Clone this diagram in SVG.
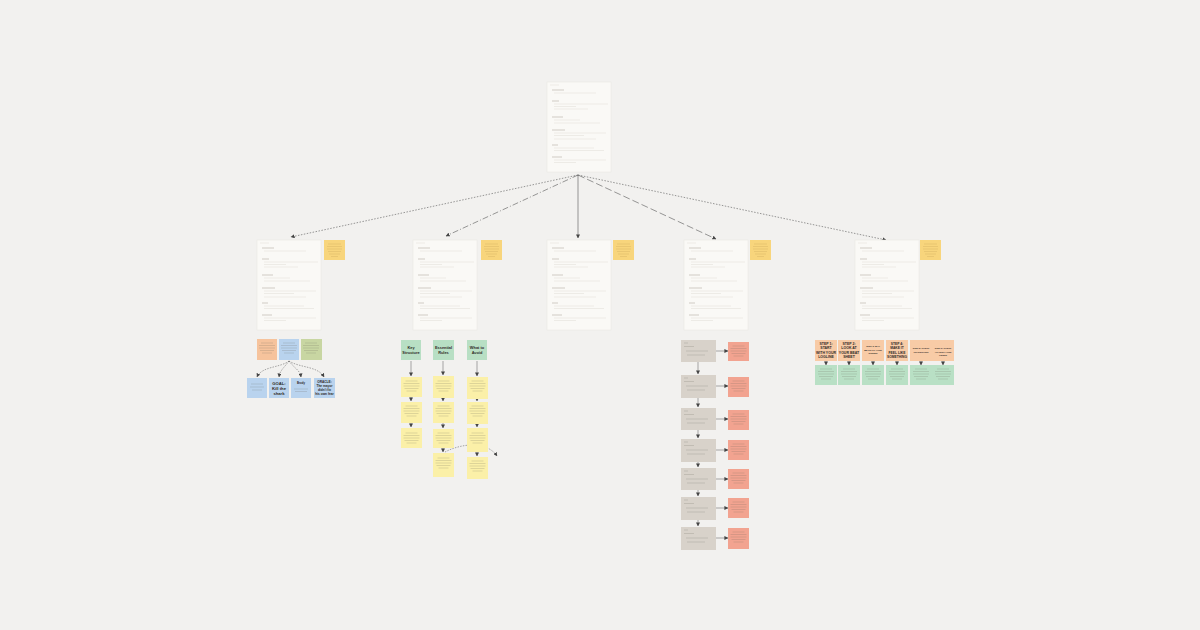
<svg xmlns="http://www.w3.org/2000/svg" xmlns:xlink="http://www.w3.org/1999/xlink" width="1200" height="630" viewBox="0 0 1200 630">
<style>
.bg{fill:#f2f1ef}
.page{fill:#faf9f6;stroke:#e8e5e0;stroke-width:0.5}
.h{stroke:#bdb8b0;stroke-width:0.7}
.t{stroke:#e0dcd6;stroke-width:0.5}
.st{stroke:#c9a75a;stroke-width:0.45;stroke-opacity:0.7}
.sticky{fill:#f8d57c}
.conn{fill:none;stroke:#555;stroke-width:0.6}
.sm{fill:none;stroke:#555;stroke-width:0.5}
.lbl{font-family:"Liberation Sans",Arial,sans-serif;font-weight:bold;text-anchor:middle;fill:#2f2a26}
.orange{fill:#f6c39c}
.blue{fill:#b9d3ee}
.green{fill:#c8d6a2}
.mint{fill:#b8dfc4}
.yel{fill:#fbf0a8}
.gray{fill:#d8d2ca}
.sal{fill:#f2a390}
.sor{fill:#f8cba6}
.sgr{fill:#b9e0c5}
.bt{stroke:#6b6358;stroke-width:0.45;stroke-opacity:0.45}
</style>
<defs>
<marker id="ah" viewBox="0 0 10 10" refX="9" refY="5" markerWidth="4" markerHeight="4" markerUnits="userSpaceOnUse" orient="auto">
<path d="M0,0L10,5L0,10z" fill="#444"/>
</marker>
<g id="docbody">
<rect class="page" x="0" y="0" width="64" height="90"/>
<path class="t" d="M3,3h9"/>
<path class="h" d="M5,8h12M5,19h7M5,35h11M5,48h13M5,63h6M5,75h10"/>
<path class="t" d="M7,11h42M7,22h54M7,24.5h22M7,27h34M7,38h26M7,41h46M7,51h52M7,53.5h30M7,57h42M7,66h40M7,68.5h50M7,78h52M7,80.5h22"/>
</g>
<g id="stk">
<rect class="sticky" x="0" y="0" width="21" height="20"/>
<path class="st" d="M4,4h13M3,6.5h15M3,9h15M4,11.5h13M5,14h11M7,16.5h7"/>
</g>
<g id="yb">
<path class="bt" d="M-6,0h12M-8,2.5h16M-8,5h16M-7,7.5h14M-5,10h10"/>
</g>
</defs>
<rect class="bg" x="0" y="0" width="1200" height="630"/>

<g id="connectors">
<path class="conn" stroke-dasharray="1.5,1.5" d="M578,175L291,237" marker-end="url(#ah)"/>
<path class="conn" stroke-dasharray="6,2,1,2" d="M578,175L446,236" marker-end="url(#ah)"/>
<path class="conn" d="M578,175L578,238" marker-end="url(#ah)"/>
<path class="conn" stroke-dasharray="7,3" d="M578,175L716,239" marker-end="url(#ah)"/>
<path class="conn" stroke-dasharray="1.5,1.5" d="M578,175L886,240" marker-end="url(#ah)"/>
<path class="sm" stroke-dasharray="1.5,1.2" d="M289,361C280,368 262,366 257,377" marker-end="url(#ah)"/>
<path class="sm" stroke-dasharray="1.5,1.2" d="M289,361C284,368 280,370 279,377" marker-end="url(#ah)"/>
<path class="sm" stroke-dasharray="1.5,1.2" d="M289,361C294,368 300,370 301,377" marker-end="url(#ah)"/>
<path class="sm" stroke-dasharray="1.5,1.2" d="M289,361C300,368 318,366 324,377" marker-end="url(#ah)"/>
<path class="sm" d="M411,361V376" marker-end="url(#ah)"/>
<path class="sm" d="M411,397V401" marker-end="url(#ah)"/>
<path class="sm" d="M411,423V427" marker-end="url(#ah)"/>
<path class="sm" d="M443,361V375" marker-end="url(#ah)"/>
<path class="sm" d="M443,398V401" marker-end="url(#ah)"/>
<path class="sm" d="M443,423V428" marker-end="url(#ah)"/>
<path class="sm" d="M443,448V452" marker-end="url(#ah)"/>
<path class="sm" d="M477,361V376" marker-end="url(#ah)"/>
<path class="sm" d="M477,399V401" marker-end="url(#ah)"/>
<path class="sm" d="M477,424V427" marker-end="url(#ah)"/>
<path class="sm" d="M477,452V456" marker-end="url(#ah)"/>
<path class="sm" stroke-dasharray="1.5,1.2" d="M445,452C460,444 486,440 497,456" marker-end="url(#ah)"/>
<path class="sm" d="M716,351H728" marker-end="url(#ah)"/>
<path class="sm" d="M716,386H728" marker-end="url(#ah)"/>
<path class="sm" d="M716,419H728" marker-end="url(#ah)"/>
<path class="sm" d="M716,450H728" marker-end="url(#ah)"/>
<path class="sm" d="M716,479H728" marker-end="url(#ah)"/>
<path class="sm" d="M716,508H728" marker-end="url(#ah)"/>
<path class="sm" d="M716,538H728" marker-end="url(#ah)"/>
<path class="sm" d="M698,362V374" marker-end="url(#ah)"/>
<path class="sm" d="M698,398V407" marker-end="url(#ah)"/>
<path class="sm" d="M698,430V438" marker-end="url(#ah)"/>
<path class="sm" d="M698,462V467" marker-end="url(#ah)"/>
<path class="sm" d="M698,490V496" marker-end="url(#ah)"/>
<path class="sm" d="M698,520V526" marker-end="url(#ah)"/>
<path class="sm" d="M826,361V365" marker-end="url(#ah)"/>
<path class="sm" d="M849,361V365" marker-end="url(#ah)"/>
<path class="sm" d="M873,361V365" marker-end="url(#ah)"/>
<path class="sm" d="M897,361V365" marker-end="url(#ah)"/>
<path class="sm" d="M921,361V365" marker-end="url(#ah)"/>
<path class="sm" d="M943,361V365" marker-end="url(#ah)"/>
</g>

<g id="doc-top"><use xlink:href="#docbody" x="547" y="82"/></g>
<g id="doc-1"><use xlink:href="#docbody" x="257" y="240"/></g>
<g id="sticky-1"><use xlink:href="#stk" x="324" y="240"/></g>
<g id="doc-2"><use xlink:href="#docbody" x="413" y="240"/></g>
<g id="sticky-2"><use xlink:href="#stk" x="481" y="240"/></g>
<g id="doc-3"><use xlink:href="#docbody" x="547" y="240"/></g>
<g id="sticky-3"><use xlink:href="#stk" x="613" y="240"/></g>
<g id="doc-4"><use xlink:href="#docbody" x="684" y="240"/></g>
<g id="sticky-4"><use xlink:href="#stk" x="750" y="240"/></g>
<g id="doc-5"><use xlink:href="#docbody" x="855" y="240"/></g>
<g id="sticky-5"><use xlink:href="#stk" x="920" y="240"/></g>

<g id="c1-orange"><rect class="orange" x="257" y="339" width="20" height="21"/><use xlink:href="#yb" x="267" y="343"/></g>
<g id="c1-blue"><rect class="blue" x="279" y="339" width="20" height="21"/><use xlink:href="#yb" x="289" y="343"/></g>
<g id="c1-green"><rect class="green" x="301" y="339" width="21" height="21"/><use xlink:href="#yb" x="311" y="343"/></g>
<g id="c1-b1"><rect class="blue" x="247" y="378" width="20" height="20"/><path class="bt" d="M251,384h12M250,387h14M252,390h10"/></g>
<g id="c1-b2"><rect class="blue" x="269" y="378" width="20" height="20"/><text class="lbl" x="279" y="384.5" font-size="4.2">GOAL:</text><text class="lbl" x="279" y="389.5" font-size="4.2">Kill the</text><text class="lbl" x="279" y="394.5" font-size="4.2">shark</text></g>
<g id="c1-b3"><rect class="blue" x="291" y="378" width="20" height="20"/><text class="lbl" x="301" y="384" font-size="2.8">Brody</text><path class="bt" d="M294,389h14M295,391.5h12"/></g>
<g id="c1-b4"><rect class="blue" x="314" y="378" width="21" height="20"/><text class="lbl" x="324.5" y="383" font-size="3.2">ORACLE:</text><text class="lbl" x="324.5" y="387" font-size="3.2">The mayor</text><text class="lbl" x="324.5" y="391" font-size="3.2">didn't fix</text><text class="lbl" x="324.5" y="395" font-size="3.2">his own fear</text></g>

<g id="c2-h1"><rect class="mint" x="401" y="340" width="20" height="20"/><text class="lbl" x="411" y="349" font-size="3.9">Key</text><text class="lbl" x="411" y="354" font-size="3.9">Structure</text></g>
<g id="c2-h2"><rect class="mint" x="433" y="340" width="21" height="20"/><text class="lbl" x="443.5" y="349" font-size="3.9">Essential</text><text class="lbl" x="443.5" y="354" font-size="3.9">Rules</text></g>
<g id="c2-h3"><rect class="mint" x="467" y="340" width="20" height="20"/><text class="lbl" x="477" y="349" font-size="3.9">What to</text><text class="lbl" x="477" y="354" font-size="3.9">Avoid</text></g>
<g id="c2-a1"><rect class="yel" x="401" y="377" width="21" height="20"/><use xlink:href="#yb" x="411.5" y="381"/></g>
<g id="c2-a2"><rect class="yel" x="401" y="402" width="21" height="21"/><use xlink:href="#yb" x="411.5" y="406"/></g>
<g id="c2-a3"><rect class="yel" x="401" y="428" width="21" height="20"/><use xlink:href="#yb" x="411.5" y="433"/></g>
<g id="c2-b1"><rect class="yel" x="433" y="376" width="21" height="22"/><use xlink:href="#yb" x="443.5" y="381"/></g>
<g id="c2-b2"><rect class="yel" x="433" y="402" width="21" height="21"/><use xlink:href="#yb" x="443.5" y="406"/></g>
<g id="c2-b3"><rect class="yel" x="433" y="429" width="21" height="19"/><use xlink:href="#yb" x="443.5" y="433"/></g>
<g id="c2-b4"><rect class="yel" x="433" y="453" width="21" height="24"/><use xlink:href="#yb" x="443.5" y="458"/></g>
<g id="c2-c1"><rect class="yel" x="467" y="377" width="21" height="22"/><use xlink:href="#yb" x="477.5" y="381"/></g>
<g id="c2-c2"><rect class="yel" x="467" y="402" width="21" height="22"/><use xlink:href="#yb" x="477.5" y="406"/></g>
<g id="c2-c3"><rect class="yel" x="467" y="428" width="21" height="24"/><use xlink:href="#yb" x="477.5" y="433"/></g>
<g id="c2-c4"><rect class="yel" x="467" y="457" width="21" height="22"/><use xlink:href="#yb" x="477.5" y="461"/></g>

<g id="c4-g1"><rect class="gray" x="681" y="340" width="35" height="22"/><path class="bt" d="M684,343h4M684,346.5h10M686,351h22M687,355h18"/></g>
<g id="c4-s1"><rect class="sal" x="728" y="342" width="21" height="19"/><use xlink:href="#yb" x="738.5" y="346"/></g>
<g id="c4-g2"><rect class="gray" x="681" y="375" width="35" height="23"/><path class="bt" d="M684,378h4M684,381.5h10M686,386h22M687,390h18"/></g>
<g id="c4-s2"><rect class="sal" x="728" y="377" width="21" height="20"/><use xlink:href="#yb" x="738.5" y="381"/></g>
<g id="c4-g3"><rect class="gray" x="681" y="408" width="35" height="22"/><path class="bt" d="M684,411h4M684,414.5h10M686,419h22M687,423h18"/></g>
<g id="c4-s3"><rect class="sal" x="728" y="410" width="21" height="20"/><use xlink:href="#yb" x="738.5" y="414"/></g>
<g id="c4-g4"><rect class="gray" x="681" y="439" width="35" height="23"/><path class="bt" d="M684,442h4M684,445.5h10M686,450h22M687,454h18"/></g>
<g id="c4-s4"><rect class="sal" x="728" y="440" width="21" height="20"/><use xlink:href="#yb" x="738.5" y="444"/></g>
<g id="c4-g5"><rect class="gray" x="681" y="468" width="35" height="22"/><path class="bt" d="M684,471h4M684,474.5h10M686,479h22M687,483h18"/></g>
<g id="c4-s5"><rect class="sal" x="728" y="469" width="21" height="20"/><use xlink:href="#yb" x="738.5" y="473"/></g>
<g id="c4-g6"><rect class="gray" x="681" y="497" width="35" height="23"/><path class="bt" d="M684,500h4M684,503.5h10M686,508h22M687,512h18"/></g>
<g id="c4-s6"><rect class="sal" x="728" y="498" width="21" height="20"/><use xlink:href="#yb" x="738.5" y="502"/></g>
<g id="c4-g7"><rect class="gray" x="681" y="527" width="35" height="23"/><path class="bt" d="M684,530h4M684,533.5h10M686,538h22M687,542h18"/></g>
<g id="c4-s7"><rect class="sal" x="728" y="528" width="21" height="21"/><use xlink:href="#yb" x="738.5" y="532"/></g>

<g id="c5-s1"><rect class="sor" x="815" y="340" width="22" height="21"/><text class="lbl" x="826" y="345" font-size="3.5">STEP 1:</text><text class="lbl" x="826" y="349.3" font-size="3.5">START</text><text class="lbl" x="826" y="353.6" font-size="3.5">WITH YOUR</text><text class="lbl" x="826" y="357.9" font-size="3.5">LOGLINE</text></g>
<g id="c5-s2"><rect class="sor" x="838" y="340" width="22" height="21"/><text class="lbl" x="849" y="345" font-size="3.5">STEP 2:</text><text class="lbl" x="849" y="349.3" font-size="3.5">LOOK AT</text><text class="lbl" x="849" y="353.6" font-size="3.5">YOUR BEAT</text><text class="lbl" x="849" y="357.9" font-size="3.5">SHEET</text></g>
<g id="c5-s3"><rect class="sor" x="862" y="340" width="22" height="21"/><text class="lbl" x="873" y="347" font-size="2.2">STEP 3: MAP</text><text class="lbl" x="873" y="350.5" font-size="2.2">BEATS TO YOUR</text><text class="lbl" x="873" y="354" font-size="2.2">SCENES</text></g>
<g id="c5-s4"><rect class="sor" x="886" y="340" width="22" height="21"/><text class="lbl" x="897" y="345" font-size="3.3">STEP 4:</text><text class="lbl" x="897" y="349.3" font-size="3.3">MAKE IT</text><text class="lbl" x="897" y="353.6" font-size="3.3">FEEL LIKE</text><text class="lbl" x="897" y="357.9" font-size="3.3">SOMETHING</text></g>
<g id="c5-s5"><rect class="sor" x="910" y="340" width="22" height="21"/><text class="lbl" x="921" y="349" font-size="2.2">STEP 5: CHECK</text><text class="lbl" x="921" y="352.5" font-size="2.2">TRANSITIONS</text></g>
<g id="c5-s6"><rect class="sor" x="932" y="340" width="22" height="21"/><text class="lbl" x="943" y="349" font-size="2.2">STEP 6: CHECK</text><text class="lbl" x="943" y="352.5" font-size="2.2">AGAINST YOUR</text><text class="lbl" x="943" y="356" font-size="2.2">GENRE</text></g>
<g id="c5-g1"><rect class="sgr" x="815" y="365" width="22" height="20"/><use xlink:href="#yb" x="826" y="369"/></g>
<g id="c5-g2"><rect class="sgr" x="838" y="365" width="22" height="20"/><use xlink:href="#yb" x="849" y="369"/></g>
<g id="c5-g3"><rect class="sgr" x="862" y="365" width="22" height="20"/><use xlink:href="#yb" x="873" y="369"/></g>
<g id="c5-g4"><rect class="sgr" x="886" y="365" width="22" height="20"/><use xlink:href="#yb" x="897" y="369"/></g>
<g id="c5-g5"><rect class="sgr" x="910" y="365" width="22" height="20"/><use xlink:href="#yb" x="921" y="369"/></g>
<g id="c5-g6"><rect class="sgr" x="932" y="365" width="22" height="20"/><use xlink:href="#yb" x="943" y="369"/></g>
</svg>
